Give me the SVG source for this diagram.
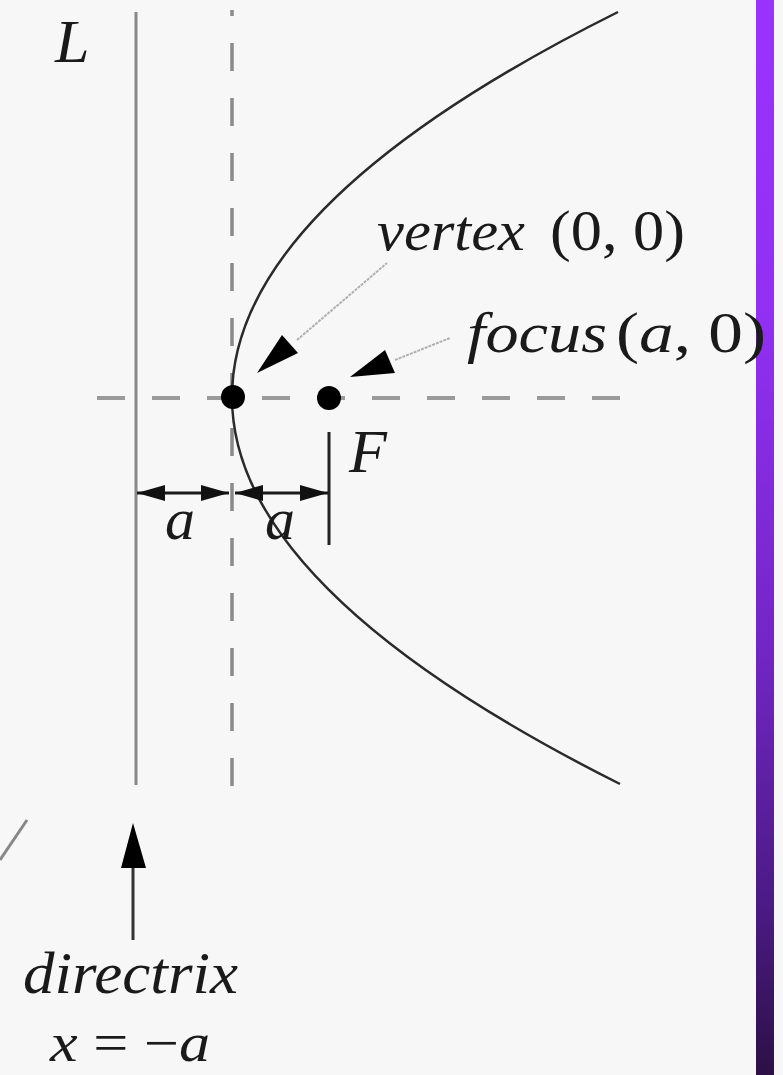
<svg xmlns="http://www.w3.org/2000/svg" width="783" height="1075" viewBox="0 0 783 1075">
<defs>
<linearGradient id="bar" x1="0" y1="0" x2="0" y2="1">
<stop offset="0" stop-color="#9a33ff"/>
<stop offset="0.3" stop-color="#912ff2"/>
<stop offset="0.6" stop-color="#7326c6"/>
<stop offset="0.85" stop-color="#4a1a82"/>
<stop offset="1" stop-color="#2c1046"/>
</linearGradient>
<marker id="ah" viewBox="0 0 28 16" refX="28" refY="8" markerWidth="28" markerHeight="16" markerUnits="userSpaceOnUse" orient="auto-start-reverse">
<path d="M0,0 L28,8 L0,16 z" fill="#111"/>
</marker>
<style>
.t{font-family:"Liberation Serif","Times New Roman",serif;fill:#1a1a1a}
.i{font-style:italic}
.dash{stroke:#8a8a8a;stroke-width:3.5;stroke-dasharray:28 27;fill:none}
.solid{stroke:#888;stroke-width:3;fill:none}
.ptr{stroke:#b0b0b0;stroke-width:2;fill:none;stroke-dasharray:3 1}
.dim{stroke:#1a1a1a;stroke-width:3;fill:none}
</style>
</defs>
<rect x="0" y="0" width="783" height="1075" fill="#f7f7f7"/>
<rect x="756" y="0" width="18" height="1075" fill="url(#bar)"/>

<g id="axes">
<line class="solid" x1="136" y1="12" x2="136" y2="785"/>
<line class="dash" x1="232" y1="10" x2="232" y2="786" stroke-dashoffset="22"/>
<line class="dash" x1="97" y1="398" x2="620" y2="398" style="stroke:#9a9a9a;stroke-width:4"/>
<line class="solid" x1="0" y1="860" x2="27" y2="820"/>
</g>

<g id="parabola">
<path d="M618,12 Q232,204.5 232,397 Q232,589.5 620,784" fill="none" stroke="#2a2a2a" stroke-width="2.5"/>
</g>

<g id="vertex">
<circle cx="233" cy="397" r="12" fill="#000"/>
</g>
<g id="focus">
<circle cx="329" cy="398" r="12" fill="#000"/>
<line x1="329" y1="432" x2="329" y2="545" stroke="#222" stroke-width="3"/>
</g>

<g id="connectors">
<line class="ptr" x1="297" y1="340" x2="387" y2="263"/>
<polygon points="257,373 282,335 298,353" fill="#000"/>
<line class="ptr" x1="395" y1="360" x2="450" y2="338"/>
<polygon points="350,377 385,350 395,373" fill="#000"/>
<line class="dim" x1="137" y1="493" x2="229" y2="493" marker-start="url(#ah)" marker-end="url(#ah)"/>
<line class="dim" x1="235" y1="493" x2="328" y2="493" marker-start="url(#ah)" marker-end="url(#ah)"/>
<line x1="133" y1="940" x2="133" y2="860" stroke="#333" stroke-width="3"/>
<polygon points="133,823 121,868 146,868" fill="#000"/>
</g>

<g id="labels">
<text class="t i" x="55" y="62" font-size="62">L</text>
<text class="t i" x="377" y="250" font-size="58" textLength="148" lengthAdjust="spacingAndGlyphs">vertex</text>
<text class="t" x="550" y="250" font-size="58" textLength="135" lengthAdjust="spacingAndGlyphs">(0, 0)</text>
<text class="t i" x="467" y="352" font-size="58" textLength="140" lengthAdjust="spacingAndGlyphs">focus</text>
<text class="t" x="616" y="352" font-size="58" textLength="150" lengthAdjust="spacingAndGlyphs">(<tspan class="i">a</tspan>, 0)</text>
<text class="t i" x="349" y="472" font-size="62">F</text>
<text class="t i" x="165" y="539" font-size="60">a</text>
<text class="t i" x="265" y="539" font-size="60">a</text>
<text class="t i" x="23" y="993" font-size="60" textLength="215" lengthAdjust="spacingAndGlyphs">directrix</text>
<text class="t" x="50" y="1061" font-size="54" textLength="160" lengthAdjust="spacingAndGlyphs"><tspan class="i">x</tspan> = −<tspan class="i">a</tspan></text>
</g>
</svg>
